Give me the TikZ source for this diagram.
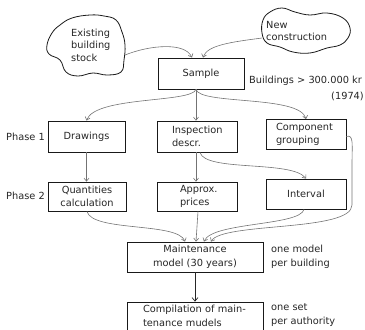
\documentclass[tikz,border=0pt]{standalone}
\usepackage{fontspec}
\setmainfont{DejaVu Sans}
\usetikzlibrary{arrows.meta}
\tikzset{
  lbl/.style={font=\fontsize{9.8}{13.5}\selectfont, text=black!85, inner sep=0pt},
  box/.style={lbl, draw=black!90, line width=0.8pt, align=center},
  link/.style={draw=black!55, line width=0.6pt, -{Straight Barb[length=3pt,width=5pt]}},
  mainlink/.style={draw=black!85, line width=0.7pt, -{Straight Barb[length=3.5pt,width=6pt]}},
  blob/.style={draw=black!90, line width=0.8pt}
}
\begin{document}
\begin{tikzpicture}[x=1pt,y=-1pt]
\useasboundingbox (0,0) rectangle (365,330);

% source clouds
\draw[blob] plot[smooth cycle, tension=0.7] coordinates {(47,45) (52,33) (60,25) (72,18) (90,15) (104,16) (116,20) (122,32) (125,45) (124,60) (121,72) (107,75) (93,73) (78,76) (66,72) (60,60) (49,54)};
\node[lbl, anchor=west, align=left, font=\fontsize{9.8}{12.5}\selectfont] (exist) at (71,45) {Existing\\building\\stock};
\coordinate (existout) at (125,55);

\draw[blob] plot[smooth cycle, tension=0.7] coordinates {(262,33) (263,20) (270,12) (282,8) (295,12) (310,15) (327,13) (343,18) (350,28) (348,38) (340,45) (327,48) (310,53) (293,52) (280,47) (267,43)};
\node[lbl, anchor=west, align=left, font=\fontsize{9.8}{12.5}\selectfont] (newc) at (266,31) {New\\construction};
\coordinate (newout) at (262,38);

% boxes
\node[box, minimum width=86pt, minimum height=31pt] (sample) at (201,73.5) {Sample};

\node[box, minimum width=77pt, minimum height=31pt] (drw) at (86.5,136.5) {Drawings};
\node[box, minimum height=31pt, inner xsep=15pt, text width=50pt, align=left] (insp) at (197,136.5) {Inspection\\descr.};
\node[box, minimum height=30pt, inner xsep=10pt, text width=60pt, align=left] (comp) at (306,134.5) {Component\\grouping};

\node[box, minimum width=78pt, minimum height=29pt] (qty) at (87,196.5) {Quantities\\calculation};
\node[box, minimum height=29pt, inner xsep=23pt, text width=34pt, align=left] (apx) at (197,196.5) {Approx.\\prices};
\node[box, minimum width=80pt, minimum height=30pt] (intv) at (306,194) {Interval};

\node[box, minimum width=136pt, minimum height=30pt] (mm) at (195,257) {Maintenance\\model (30 years)};
\node[box, minimum height=28pt, inner xsep=16pt, text width=104pt, align=left] (cmp) at (195,316) {Compilation of main-\\tenance mudels};

% side labels
\node[lbl, anchor=east] (ph1) at (45,137) {Phase 1};
\node[lbl, anchor=east] (ph2) at (45,196) {Phase 2};
\node[lbl, anchor=west] (bld) at (249,81) {Buildings > 300.000 kr};
\node[lbl, anchor=east] (yr) at (364,96) {(1974)};
\node[lbl, anchor=west, align=left] (permm) at (271,257) {one model\\per building};
\node[lbl, anchor=west, align=left] (percmp) at (271,315) {one set\\per authority};

% connectors
\coordinate (sfoot) at ([xshift=-5pt]sample.south);
\draw[link] (existout) .. controls (150,45) and (185,42) .. ([xshift=-9pt]sample.north);
\draw[link] (newout) .. controls (232,42) and (207,45) .. ([xshift=2pt]sample.north);

\draw[link] (sfoot) .. controls (192,103) and (95,96) .. (drw.north);
\draw[link] (sfoot) -- (sfoot |- insp.north);
\draw[link] (sfoot) .. controls (200,105) and (300,95) .. (comp.north);

\draw[link] (drw.south) -- (drw.south |- qty.north);
\draw[link] ([xshift=-1pt]insp.south) -- ([xshift=-1pt]apx.north);
\draw[link] ([xshift=3pt]insp.south) .. controls (205,172) and (292,160) .. (intv.north);

\draw[link] (qty.south) .. controls (92,232) and (178,222) .. ([xshift=-10pt]mm.north);
\draw[link] ([xshift=1pt]apx.south) -- ([xshift=1pt]mm.north);
\draw[link] ([xshift=-2pt]intv.south) .. controls (300,226) and (212,222) .. ([xshift=9pt]mm.north);
\draw[link] ([yshift=-2pt]comp.east) .. controls (354,134) and (352,145) .. (352,165)
  -- (352,205) .. controls (352,232) and (222,222) .. ([xshift=16pt]mm.north);

\draw[mainlink] (mm.south) -- (cmp.north);
\end{tikzpicture}
\end{document}
